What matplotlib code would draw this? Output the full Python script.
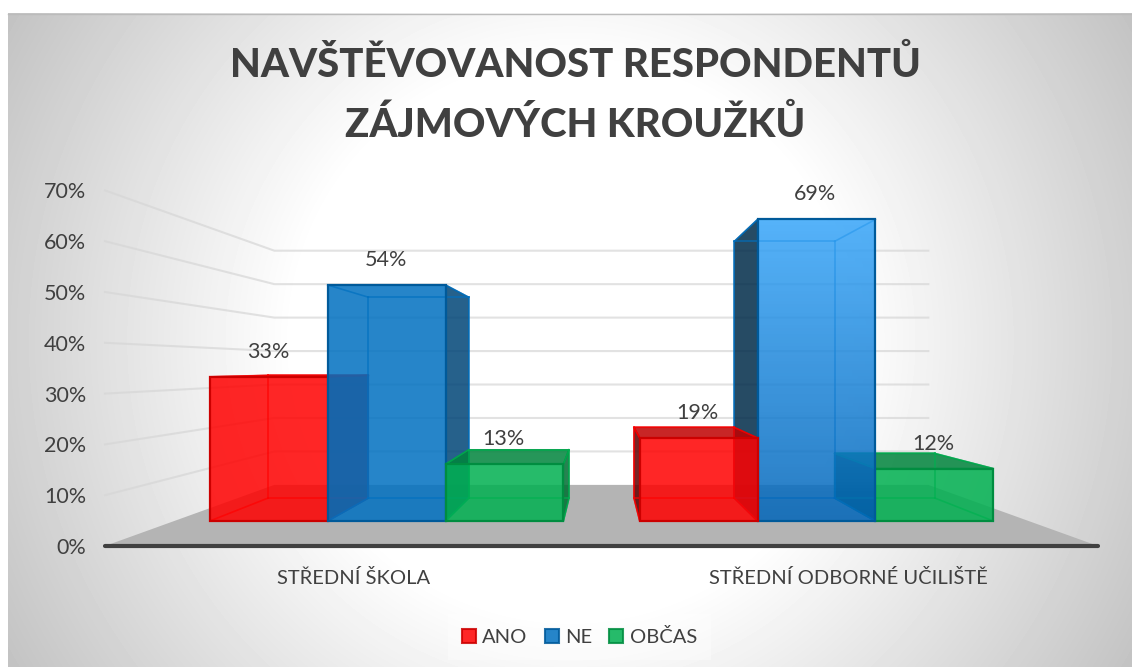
import numpy as np
import matplotlib
matplotlib.use("Agg")
import matplotlib.pyplot as plt
from matplotlib.patches import Polygon, Patch

categories = ["STŘEDNÍ ŠKOLA", "STŘEDNÍ ODBORNÉ UČILIŠTĚ"]
series = ["ANO", "NE", "OBČAS"]
ano = [33, 19]
ne = [54, 69]
obcas = [13, 12]
colors = ["#FF0000", "#0070C0", "#00B050"]
y_ticks = [0, 10, 20, 30, 40, 50, 60, 70]
title = "NAVŠTĚVOVANOST RESPONDENTŮ\nZÁJMOVÝCH KROUŽKŮ"

plt.rcParams["font.family"] = ["Lato", "DejaVu Sans"]
text_col = "#404040"

W, H = 1132, 667
fig = plt.figure(figsize=(W / 100, H / 100), dpi=100)
ax = fig.add_axes([0, 0, 1, 1])
ax.set_xlim(0, W)
ax.set_ylim(H, 0)
ax.axis("off")

# pozadi - radialni prechod
yy, xx = np.mgrid[13:H, 8:W]
r = np.hypot(xx - 570, yy - 340) / 660
g = np.clip(255 - np.clip((r - 0.42) / 0.58, 0, 1) * 62, 0, 255) / 255
ax.imshow(g, extent=(8, W, H, 13), cmap="gray", vmin=0, vmax=1, zorder=0, aspect="auto")
ax.plot([8, W], [13.5, 13.5], color="#bbbbbb", lw=1, zorder=1)
ax.set_xlim(0, W)
ax.set_ylim(H, 0)

# perspektiva: predni rovina grafu -> meritko s podle hloubky
VX, VY = 601, 367
Y0, PX = 546, 5.08
S_WALL, S_FRONT, S_BACK = 0.6586, 0.86, 0.732


def proj(x, v, s):
    return VX + (x - VX) * s, VY + (Y0 - v * PX - VY) * s


# podlaha a mrizka
left, right = 105, 1098
ax.add_patch(Polygon([proj(left, 0, 1), proj(right, 0, 1), proj(right, 0, S_WALL), proj(left, 0, S_WALL)],
                     fc="#b4b4b4", ec="none", zorder=2))
for t in y_ticks[1:]:
    a, b, c = proj(left, t, 1), proj(left, t, S_WALL), proj(right, t, S_WALL)
    ax.plot([a[0], b[0], c[0]], [a[1], b[1], c[1]], color="#d6d6d6", lw=1.5, alpha=0.7, zorder=2)
for t in y_ticks:
    ax.text(86, proj(left, t, 1)[1] + 2, f"{t}%", ha="right", va="center", fontsize=15.5, color=text_col, zorder=20)
ax.plot([left, right], [Y0, Y0], color="#404040", lw=3, solid_capstyle="round", zorder=3)


def shade(c, k):
    return tuple(np.array(matplotlib.colors.to_rgb(c)) * k)


def bar3d(x0, x1, v, col, zo, gradient=None):
    f = [proj(x0, 0, S_FRONT), proj(x1, 0, S_FRONT), proj(x1, v, S_FRONT), proj(x0, v, S_FRONT)]
    b = [proj(x0, 0, S_BACK), proj(x1, 0, S_BACK), proj(x1, v, S_BACK), proj(x0, v, S_BACK)]
    a = 0.85
    edge = shade(col, 0.8)
    # vnejsi bocni stena
    if x1 < VX:
        ax.add_patch(Polygon([f[1], b[1], b[2], f[2]], fc=shade(col, 0.62), ec=edge, lw=1, alpha=a, zorder=zo))
    if x0 > VX:
        ax.add_patch(Polygon([f[0], b[0], b[3], f[3]], fc=shade(col, 0.38), ec=edge, lw=1, alpha=a, zorder=zo))
    # horni stena jen kdyz je videt shora
    if f[2][1] > VY + 5:
        ax.add_patch(Polygon([f[3], f[2], b[2], b[3]], fc=shade(col, 0.75), ec=edge, lw=1, alpha=a, zorder=zo))
    # zadni hrany
    for p, q in [(b[0], b[1]), (b[1], b[2]), (b[2], b[3]), (b[3], b[0]),
                 (f[0], b[0]), (f[1], b[1]), (f[2], b[2]), (f[3], b[3])]:
        ax.plot([p[0], q[0]], [p[1], q[1]], color=col, lw=1.2, alpha=0.7, zorder=zo + 0.1)
    if gradient is None:
        ax.add_patch(Polygon(f, fc=col, ec="none", alpha=a, zorder=zo + 0.2))
    else:
        ax.imshow(np.linspace(gradient[0], gradient[1], 100).reshape(-1, 1, 3),
                  extent=(f[0][0], f[1][0], f[0][1], f[2][1]), aspect="auto", zorder=zo + 0.2, alpha=a)
    ax.add_patch(Polygon(f, fc="none", ec=edge, lw=1.6, zorder=zo + 0.3))
    top = f[2][1]
    ax.text((f[0][0] + f[1][0]) / 2 - 1, top - 25, f"{v}%", ha="center", va="center",
            fontsize=15.5, color=text_col, zorder=30)


# leva skupina se kresli zleva, prava zprava
starts = [146.3, 646.0]
bw = 137.0
values = [ano, ne, obcas]
for i in range(3):
    bar3d(starts[0] + i * bw, starts[0] + (i + 1) * bw, values[i][0], colors[i], 5 + i)
for i in [2, 1, 0]:
    grad = None
    if i == 1:
        grad = (np.array([55, 165, 249]) / 255, np.array([0, 101, 185]) / 255)
    bar3d(starts[1] + i * bw, starts[1] + (i + 1) * bw, values[i][1], colors[i], 5 + (2 - i), gradient=grad)

ax.set_xlim(0, W)
ax.set_ylim(H, 0)

ax.text(575.5, 65, title.split("\n")[0], ha="center", va="center", fontsize=28.9, fontweight="black", color=text_col)
ax.text(575.5, 124.5, title.split("\n")[1], ha="center", va="center", fontsize=28.9, fontweight="black", color=text_col)
ax.text(354, 577.5, categories[0], ha="center", va="center", fontsize=14.5, color=text_col)
ax.text(848, 577.5, categories[1], ha="center", va="center", fontsize=14.5, color=text_col)

handles = [Patch(fc=c, ec=shade(c, 0.8), alpha=0.85, lw=1.5, label=s) for c, s in zip(colors, series)]
leg = ax.legend(handles=handles, loc="center", bbox_to_anchor=(579.5, 637), bbox_transform=ax.transData,
                ncol=3, frameon=True, fontsize=14.5, handlelength=0.68, handleheight=0.68,
                handletextpad=0.33, columnspacing=0.85, labelcolor=text_col, borderpad=0.7, fancybox=False)
leg.get_frame().set(facecolor="white", alpha=0.35, edgecolor="none")
leg.set_zorder(30)

fig.savefig("out.png", dpi=100)
